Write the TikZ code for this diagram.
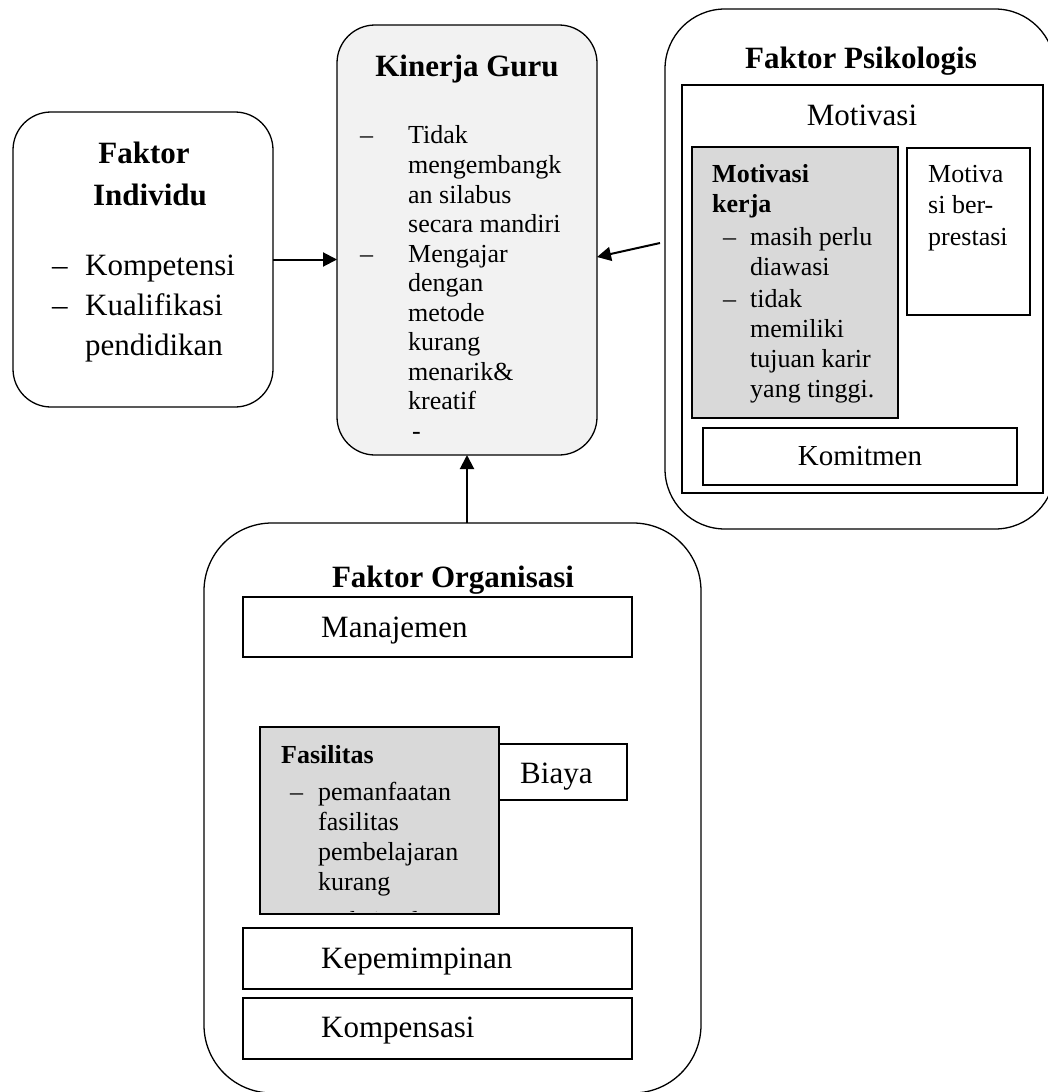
\documentclass[tikz,border=0pt]{standalone}
\usepackage{fontspec}
\setmainfont{Liberation Serif}
\usetikzlibrary{arrows.meta,fit,calc}
\begin{document}
\begin{tikzpicture}[x=1pt,y=-1pt,
  rbox/.style={draw, line width=1.3pt, inner sep=0pt, outer sep=0pt},
  sbox/.style={draw, line width=1.2pt, inner sep=0pt, outer sep=0pt},
  ttl/.style={inner sep=0pt, anchor=base, font=\fontsize{31}{36}\selectfont\bfseries},
  bigc/.style={inner sep=0pt, anchor=base, font=\fontsize{31}{36}\selectfont},
  big/.style={inner sep=0pt, anchor=base west, font=\fontsize{31}{36}\selectfont},
  sml/.style={inner sep=0pt, anchor=base west, font=\fontsize{26}{30}\selectfont},
  smlb/.style={inner sep=0pt, anchor=base west, font=\fontsize{26}{30}\selectfont\bfseries},
  arr/.style={line width=2pt, -{Triangle[length=14pt,width=14pt]}},
]
\useasboundingbox (0,0) rectangle (1047,1092);

% ---------- Kinerja Guru ----------
\node[rbox, rounded corners=38pt, fill=gray!10, fit={(337,25) (597,455)}] (kin) {};
\node[ttl] (kint) at (467,76) {Kinerja Guru};
\node[sml] (kd1) at (360,143) {--};
\node[sml] (kd2) at (360,262) {--};
\foreach \t/\yy [count=\i] in {Tidak/143, mengembangk/173, an silabus/203, secara mandiri/232, Mengajar/262, dengan/291, metode/321, kurang/350, menarik\&/380, kreatif/409}
  \node[sml] (kt\i) at (408,\yy) {\t};
\node[sml] (kt11) at (412,439) {-};

% ---------- Faktor Individu ----------
\node[rbox, rounded corners=38pt, fit={(13,112) (273,407)}] (ind) {};
\node[ttl] (indt1) at (144,163) {Faktor};
\node[ttl] (indt2) at (150,205) {Individu};
\node[big] (id1) at (52,275) {--};
\node[big] (id2) at (52,315) {--};
\node[big] (it1) at (85,275) {Kompetensi};
\node[big] (it2) at (85,315) {Kualifikasi};
\node[big] (it3) at (85,355) {pendidikan};

% ---------- Faktor Psikologis ----------
\node[rbox, rounded corners=60pt, fit={(665,9) (1055,529)}] (psi) {};
\node[ttl] (psit) at (861,68) {Faktor Psikologis};
\node[sbox, fit={(682,85) (1043,493)}] (mot) {};
\node[bigc] (mott) at (862,125) {Motivasi};
\node[sbox, fill=gray!30, fit={(692,147) (898,418)}] (mk) {};
\node[smlb] (mkt1) at (712,182) {Motivasi};
\node[smlb] (mkt2) at (712,212) {kerja};
\node[sml] (mkd1) at (723,245) {--};
\node[sml] (mkd2) at (723,307) {--};
\foreach \t/\yy [count=\i] in {masih perlu/245, diawasi/275, tidak/307, memiliki/337, tujuan karir/367, yang tinggi./397}
  \node[sml] (mk\i) at (750,\yy) {\t};
\node[sbox, fit={(907,148) (1030,315)}] (mb) {};
\foreach \t/\yy [count=\i] in {Motiva/182, si ber-/213, prestasi/245}
  \node[sml] (mb\i) at (928,\yy) {\t};
\node[sbox, fit={(703,428) (1017,485)}] (kom) {};
\node[inner sep=0pt, anchor=base, font=\fontsize{29}{34}\selectfont] (komt) at (860,465) {Komitmen};

% ---------- Faktor Organisasi ----------
\node[rbox, rounded corners=68pt, fit={(204,523) (701,1093)}] (org) {};
\node[ttl] (orgt) at (453,587) {Faktor Organisasi};
\node[sbox, fit={(243,597) (632,657)}] (man) {};
\node[big] (mant) at (321,637) {Manajemen};
\node[sbox, fit={(499,744) (627,800)}] (bia) {};
\node[big] (biat) at (520,783) {Biaya};
\node[sbox, fill=gray!30, fit={(260,727) (499,914)}] (fas) {};
\node[smlb] (fast) at (281,763) {Fasilitas};
\node[sml] (fasd) at (290,800) {--};
\foreach \t/\yy [count=\i] in {pemanfaatan/800, fasilitas/830, pembelajaran/860, kurang/890}
  \node[sml] (fa\i) at (318,\yy) {\t};
\begin{scope}
  \clip (262,729) rectangle (497,911);
  \node[sml] (fa5) at (318,929) {maksimal};
\end{scope}
\node[sbox, fit={(243,928) (632,989)}] (kep) {};
\node[big] (kept) at (321,968) {Kepemimpinan};
\node[sbox, fit={(243,998) (632,1059)}] (kmp) {};
\node[big] (kmpt) at (321,1037) {Kompensasi};

% ---------- Connectors ----------
\coordinate (pa) at (660,243);
\draw[arr] (ind.east) -- (ind.east -| kin.west);
\draw[arr] (pa) -- ([yshift=-17pt]kin.east);
\draw[arr] (kin.south |- org.north) -- (kin.south);
\end{tikzpicture}
\end{document}
